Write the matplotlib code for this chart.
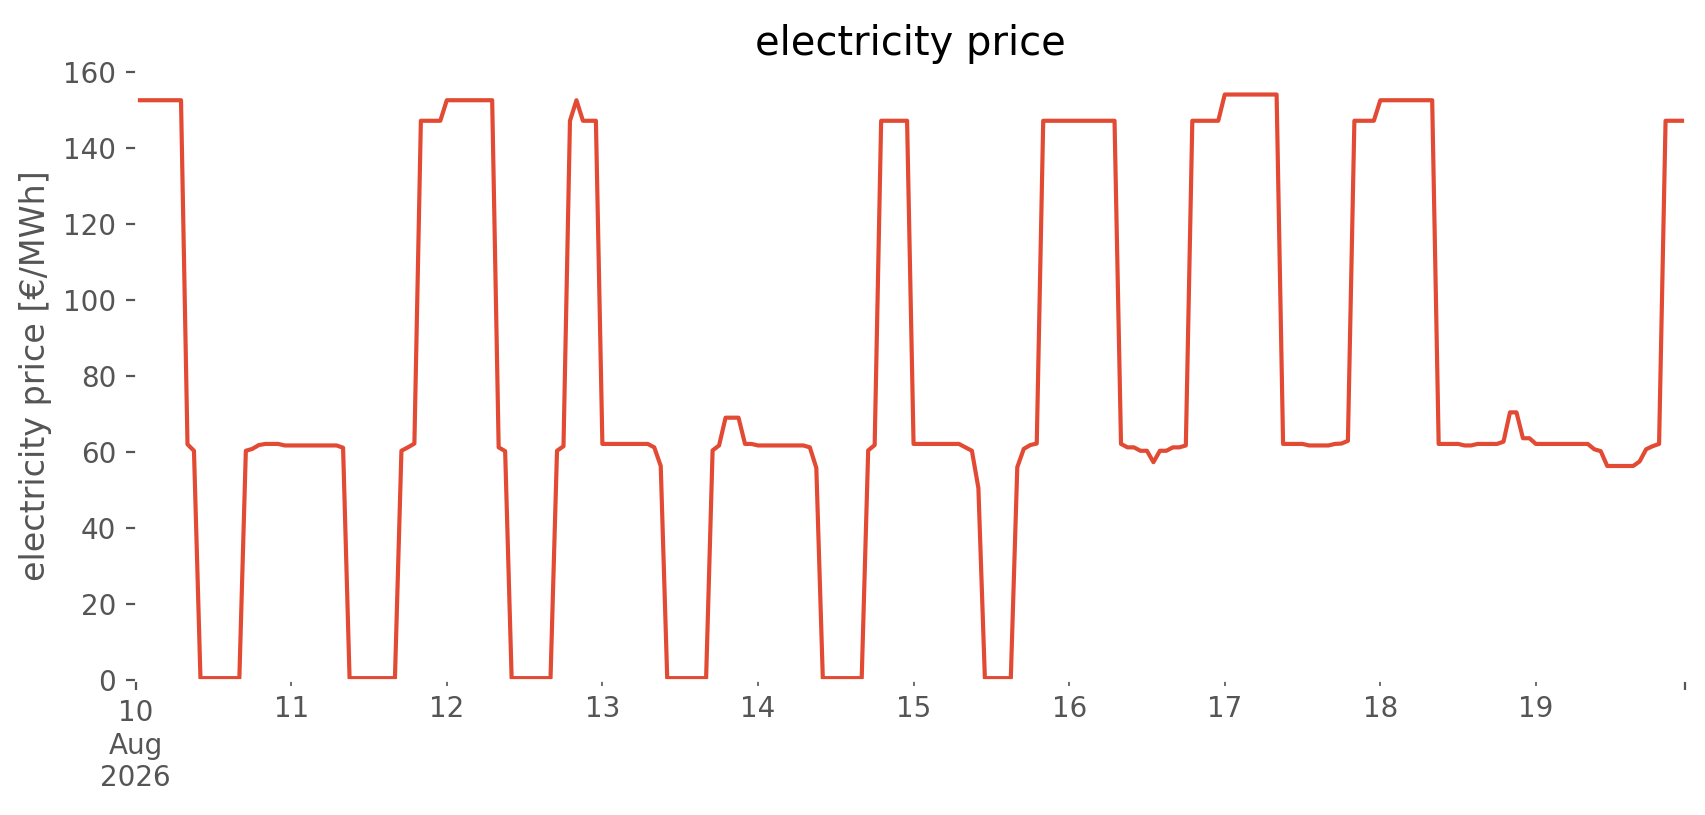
import matplotlib
matplotlib.use("Agg")
import matplotlib.pyplot as plt
import numpy as np
import pandas as pd

plt.style.use('ggplot')

# hourly day-ahead price, one list per day [EUR/MWh]
aug10 = [152.5] * 8 + [62.0, 60.3] + [0.5] * 7 + [60.3, 60.8, 61.8, 62.1, 62.1, 62.1, 61.7]
aug11 = [61.7] * 8 + [61.1] + [0.5] * 8 + [60.3, 61.2, 62.2] + [147.1] * 4
aug12 = [152.5] * 8 + [61.2, 60.2] + [0.5] * 7 + [60.3, 61.5, 147.1, 152.5] + [147.1] * 3
aug13 = [62.1] * 8 + [61.2, 56.3] + [0.5] * 7 + [60.4, 61.7, 69.0, 69.0, 69.0, 62.1, 62.1]
aug14 = [61.7] * 8 + [61.2, 55.8] + [0.5] * 7 + [60.4, 61.8] + [147.1] * 5
aug15 = [62.1] * 8 + [61.2, 60.3, 50.5] + [0.5] * 5 + [56.0, 60.8, 61.8, 62.2] + [147.1] * 4
aug16 = [147.1] * 8 + [62.1, 61.2, 61.2, 60.3, 60.3, 57.3, 60.3, 60.3, 61.2, 61.2, 61.7] + [147.1] * 5
aug17 = [154.0] * 9 + [62.1] * 4 + [61.7] * 4 + [62.1, 62.2, 62.9] + [147.1] * 4
aug18 = [152.5] * 9 + [62.1] * 4 + [61.7, 61.7] + [62.1] * 4 + [62.7, 70.4, 70.4, 63.6, 63.6]
aug19 = [62.1] * 9 + [60.7, 60.2] + [56.3] * 5 + [57.5, 60.7, 61.5, 62.1] + [147.1] * 4

prices = np.array(aug10 + aug11 + aug12 + aug13 + aug14 + aug15 + aug16 + aug17 + aug18 + aug19)
hours = pd.date_range('2026-08-10 00:00', periods=len(prices), freq='h')
price = pd.Series(prices, index=hours, name='electricity price')

fig, ax = plt.subplots(figsize=(8.53, 4.075), dpi=200)
fig.subplots_adjust(left=0.0795, right=0.9877, bottom=0.1656, top=0.912)

price.plot(ax=ax, color='#E24A33')

ax.set_facecolor('white')
ax.grid(False)
ax.set_ylim(0, 160)
ax.set_title('electricity price')
ax.set_ylabel('electricity price [€/MWh]')
ax.set_xlabel('')

fig.savefig('out.png', dpi=200, facecolor='white')
